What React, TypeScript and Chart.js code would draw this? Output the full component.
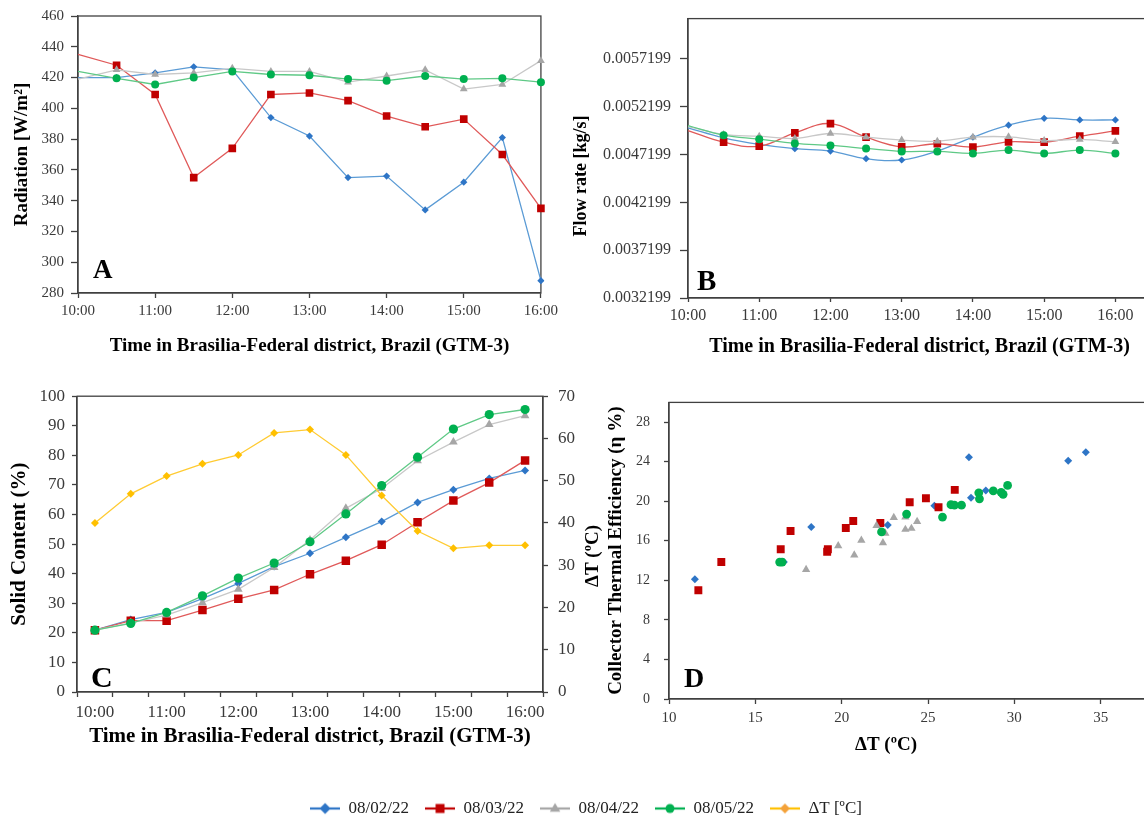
import React, { useEffect, useRef } from 'react';
import { Chart, registerables } from 'chart.js';

Chart.register(...registerables);

const FONT = "'Liberation Serif', 'Times New Roman', Times, serif";
const AXIS = '#404040';
const TICK = '#3a3a3a';

// ---------- data ----------
const timeLabels = ['10:00', '10:30', '11:00', '11:30', '12:00', '12:30', '13:00', '13:30', '14:00', '14:30', '15:00', '15:30', '16:00'];
const seriesNames = ['08/02/22', '08/03/22', '08/04/22', '08/05/22'];
const deltaName = 'ΔT [ºC]';

// A – radiation [W/m²]
const radBlue = [420, 420, 423, 427, 425, 394, 382, 355, 356, 334, 352, 381, 288];
const radRed = [435, 428, 409, 355, 374, 409, 410, 405, 395, 388, 393, 370, 335];
const radGray = [419, 425, 422, 423, 426, 424, 424, 417, 421, 425, 412.5, 415.5, 431];
const radGreen = [424, 419.5, 415.5, 420, 424, 422, 421.5, 419, 418, 421, 419, 419.5, 417];

// B – flow rate [kg/s]
const flowBlue = [0.004998, 0.004894, 0.004825, 0.00478, 0.004755, 0.004676, 0.004662, 0.004755, 0.004901, 0.005026, 0.005098, 0.005081, 0.005081];
const flowRed = [0.00497, 0.004849, 0.004807, 0.004946, 0.005043, 0.004901, 0.0048, 0.004832, 0.004797, 0.004852, 0.004849, 0.004911, 0.004967];
const flowGray = [0.005012, 0.004929, 0.004911, 0.004887, 0.004939, 0.004901, 0.00487, 0.004859, 0.004901, 0.004904, 0.004866, 0.004877, 0.004852];
const flowGreen = [0.005022, 0.004922, 0.00488, 0.004835, 0.004814, 0.004783, 0.004752, 0.004752, 0.004731, 0.004766, 0.004731, 0.004766, 0.004731];
const flowTicks = [0.0032199, 0.0037199, 0.0042199, 0.0047199, 0.0052199, 0.0057199];

// C – solid content (%) and ΔT
const solidBlue = [20.9, 24.5, 26.9, 31.6, 36.7, 42.4, 46.9, 52.3, 57.6, 64.1, 68.4, 72.2, 74.9];
const solidRed = [20.9, 24.1, 24.1, 27.7, 31.5, 34.5, 39.8, 44.4, 49.8, 57.4, 64.7, 70.8, 78.3];
const solidGray = [20.9, 23.4, 26, 30.2, 34.7, 42.1, 51.4, 62.1, 68.8, 78.2, 84.5, 90.4, 93.4];
const solidGreen = [20.9, 23.2, 26.9, 32.5, 38.5, 43.6, 50.8, 60.2, 69.8, 79.4, 88.9, 93.8, 95.5];
const deltaT = [40, 46.9, 51.1, 54, 56.1, 61.3, 62.1, 56.1, 46.5, 38.1, 34, 34.7, 34.7];

// D – efficiency vs ΔT  [ΔT, η]
const effBlue = [[11.5, 12.1], [16.65, 13.85], [18.24, 17.4], [22.67, 17.6], [25.37, 19.55], [27.37, 24.45], [27.49, 20.35], [28.35, 21.1], [33.12, 24.1], [34.14, 24.95]];
const effRed = [[11.7, 11.0], [13.03, 13.85], [16.47, 15.15], [17.04, 17.0], [19.16, 14.9], [19.2, 15.15], [20.24, 17.3], [20.67, 18.0], [22.24, 17.8], [23.94, 19.9], [24.88, 20.3], [25.61, 19.4], [26.55, 21.15]];
const effGray = [[17.94, 13.1], [19.8, 15.5], [20.73, 14.55], [21.14, 16.05], [22.02, 17.55], [22.39, 15.8], [22.53, 16.75], [23.02, 18.35], [23.69, 18.4], [23.69, 17.15], [24.04, 17.25], [24.37, 17.95]];
const effGreen = [[16.41, 13.85], [16.55, 13.85], [22.31, 16.9], [23.76, 18.7], [25.84, 18.4], [26.33, 19.65], [26.53, 19.6], [26.94, 19.6], [27.94, 20.85], [27.98, 20.25], [28.78, 21.05], [29.24, 20.9], [29.35, 20.7], [29.61, 21.6]];
const effTicks = [0, 4, 8, 12, 16, 20, 24, 28];

// ---------- styles ----------
const C_BLUE = { line: '#5B9BD5', mark: '#2E75C6', style: 'rectRot' };
const C_RED = { line: '#E05A5A', mark: '#C00000', style: 'rect' };
const C_GRAY = { line: '#C8C8C8', mark: '#A6A6A6', style: 'triangle' };
const C_GREEN = { line: '#5FC986', mark: '#00B050', style: 'circle' };
const C_YEL = { line: '#FFCB33', mark: '#FFC000', style: 'rectRot' };

function makeDecor(id: string, cfg: any) {
  return {
    id,
    beforeDatasetsDraw(chart: any) {
      if (!cfg.frame) return;
      const { ctx, chartArea: a } = chart;
      ctx.save();
      ctx.strokeStyle = AXIS;
      ctx.lineWidth = 1.3;
      ctx.strokeRect(a.left, a.top, a.right - a.left, a.bottom - a.top);
      ctx.restore();
    },
    afterDraw(chart: any) {
      const { ctx, chartArea: a } = chart;
      (cfg.texts || []).forEach((t: any) => {
        ctx.save();
        ctx.font = t.font;
        ctx.fillStyle = t.color || '#000';
        ctx.textAlign = t.align || 'left';
        ctx.textBaseline = t.baseline || 'alphabetic';
        const x = t.fromArea ? a.left + t.x : t.x;
        const y = t.fromArea ? a.bottom + t.y : t.y;
        ctx.translate(x, y);
        if (t.rotate) ctx.rotate(t.rotate);
        ctx.fillText(t.text, 0, 0);
        ctx.restore();
      });
    },
  };
}

function lineDs(label: string, data: any[], c: any, radius: number, extra: any = {}) {
  return {
    label,
    data,
    borderColor: c.line,
    borderWidth: 1.3,
    backgroundColor: c.mark,
    pointBackgroundColor: c.mark,
    pointBorderColor: c.mark,
    pointBorderWidth: 0,
    pointStyle: c.style,
    pointRadius: radius,
    pointHoverRadius: radius,
    tension: 0,
    fill: false,
    ...extra,
  };
}

const hideFirst = (r: number) => (ctx: any) => (ctx.dataIndex === 0 ? 0 : r);

const border = { display: true, color: AXIS, width: 1.3 };
const titleFont = (size: number) => ({ size, weight: 'bold' as const });

function cfgA(): any {
  return {
    type: 'line',
    data: {
      labels: timeLabels,
      datasets: [
        lineDs(seriesNames[0], radBlue, C_BLUE, 3.6, { pointRadius: hideFirst(3.6), order: 4 }),
        lineDs(seriesNames[1], radRed, C_RED, 5.4, { pointRadius: hideFirst(5.4), order: 3 }),
        lineDs(seriesNames[2], radGray, C_GRAY, 4.5, { pointRadius: hideFirst(4.5), order: 2 }),
        lineDs(seriesNames[3], radGreen, C_GREEN, 4, { pointRadius: hideFirst(4), order: 1 }),
      ],
    },
    options: {
      responsive: false,
      animation: false,
      layout: { padding: { top: 0, right: 18, left: 0, bottom: 0 } },
      plugins: { legend: { display: false }, tooltip: { enabled: false } },
      scales: {
        x: {
          type: 'category',
          offset: false,
          grid: { drawOnChartArea: false, drawTicks: true, tickLength: 5, tickWidth: 1.3, tickColor: (c: any) => (c.index % 2 ? 'rgba(0,0,0,0)' : AXIS) },
          border,
          ticks: { autoSkip: false, maxRotation: 0, padding: 4, color: TICK, font: { size: 15 }, callback: (_v: any, i: number) => (i % 2 ? '' : timeLabels[i]) },
          title: { display: true, text: 'Time in Brasilia-Federal district, Brazil (GTM-3)', color: '#000', font: titleFont(19), padding: { top: 0, bottom: 23 } },
          afterFit: (s: any) => { s.height = 87; },
        },
        y: {
          min: 280,
          max: 460,
          grid: { drawOnChartArea: false, tickLength: 7, tickWidth: 1.3, tickColor: AXIS },
          border,
          ticks: { stepSize: 20, padding: 7, color: TICK, font: { size: 15 } },
          title: { display: true, text: 'Radiation [W/m²]', color: '#000', font: titleFont(19), padding: { top: 11, bottom: 0 } },
          afterFit: (s: any) => { s.width = 78; },
        },
      },
    },
    plugins: [makeDecor('decorA', { frame: true, texts: [{ text: 'A', x: 15, y: -15, fromArea: true, font: `bold 27px ${FONT}` }] })],
  };
}

function cfgB(): any {
  const labels = [...timeLabels, '16:30'];
  return {
    type: 'line',
    data: {
      labels,
      datasets: [
        lineDs(seriesNames[0], flowBlue, C_BLUE, 3.6, { pointRadius: hideFirst(3.6), tension: 0.4, order: 4 }),
        lineDs(seriesNames[1], flowRed, C_RED, 5.4, { pointRadius: hideFirst(5.4), tension: 0.4, order: 3 }),
        lineDs(seriesNames[2], flowGray, C_GRAY, 4.5, { pointRadius: hideFirst(4.5), tension: 0.4, order: 2 }),
        lineDs(seriesNames[3], flowGreen, C_GREEN, 4, { pointRadius: hideFirst(4), tension: 0.4, order: 1 }),
      ],
    },
    options: {
      responsive: false,
      animation: false,
      layout: { padding: { top: 0, right: 29, left: 0, bottom: 0 } },
      plugins: { legend: { display: false }, tooltip: { enabled: false } },
      scales: {
        x: {
          type: 'category',
          offset: false,
          grid: { drawOnChartArea: false, drawTicks: true, tickLength: 4, tickWidth: 1.3, tickColor: (c: any) => (c.index % 2 ? 'rgba(0,0,0,0)' : AXIS) },
          border,
          ticks: { autoSkip: false, maxRotation: 0, padding: 4, color: TICK, font: { size: 16 }, callback: (_v: any, i: number) => (i % 2 ? '' : labels[i]) },
          title: { display: true, text: 'Time in Brasilia-Federal district, Brazil (GTM-3)', color: '#000', font: titleFont(20), padding: { top: 0, bottom: 21 } },
          afterFit: (s: any) => { s.height = 82; },
        },
        y: {
          min: 0.0032199,
          max: 0.00614,
          grid: { drawOnChartArea: false, tickLength: 8, tickWidth: 1.3, tickColor: AXIS },
          border,
          afterBuildTicks: (s: any) => { s.ticks = flowTicks.map((v) => ({ value: v })); },
          ticks: { padding: 9, color: TICK, font: { size: 16 }, callback: (v: any) => Number(v).toFixed(7) },
          afterFit: (s: any) => { s.width = 128; },
        },
      },
    },
    plugins: [makeDecor('decorB', {
      frame: true,
      texts: [
        { text: 'B', x: 9, y: -8, fromArea: true, font: `bold 29px ${FONT}` },
        { text: 'Flow rate [kg/s]', x: 21, y: 176, rotate: -Math.PI / 2, align: 'center', baseline: 'middle', font: `bold 18px ${FONT}` },
      ],
    })],
  };
}

function cfgC(): any {
  return {
    type: 'line',
    data: {
      labels: timeLabels,
      datasets: [
        lineDs(seriesNames[0], solidBlue, C_BLUE, 4, { order: 5 }),
        lineDs(seriesNames[1], solidRed, C_RED, 6, { order: 4 }),
        lineDs(seriesNames[2], solidGray, C_GRAY, 5, { order: 3 }),
        lineDs(seriesNames[3], solidGreen, C_GREEN, 4.6, { order: 2 }),
        lineDs(deltaName, deltaT, C_YEL, 4, { yAxisID: 'y1', order: 1 }),
      ],
    },
    options: {
      responsive: false,
      animation: false,
      layout: { padding: { top: 0, right: 7, left: 0, bottom: 0 } },
      plugins: { legend: { display: false }, tooltip: { enabled: false } },
      scales: {
        x: {
          type: 'category',
          offset: true,
          grid: { offset: true, drawOnChartArea: false, drawTicks: true, tickLength: 5, tickWidth: 1.3, tickColor: AXIS },
          border,
          ticks: { autoSkip: false, maxRotation: 0, padding: 5, color: TICK, font: { size: 17 }, callback: (_v: any, i: number) => (i % 2 ? '' : timeLabels[i]) },
          title: { display: true, text: 'Time in Brasilia-Federal district, Brazil (GTM-3)', color: '#000', font: titleFont(21), padding: { top: 0, bottom: 11 } },
          afterFit: (s: any) => { s.height = 68; },
        },
        y: {
          min: 0,
          max: 100,
          grid: { drawOnChartArea: false, tickLength: 5, tickWidth: 1.3, tickColor: AXIS },
          border,
          ticks: { stepSize: 10, padding: 7, color: TICK, font: { size: 17 } },
          title: { display: true, text: 'Solid Content (%)', color: '#000', font: titleFont(21), padding: { top: 7, bottom: 0 } },
          afterFit: (s: any) => { s.width = 77; },
        },
        y1: {
          position: 'right',
          min: 0,
          max: 70,
          grid: { drawOnChartArea: false, tickLength: 5, tickWidth: 1.3, tickColor: AXIS },
          border,
          ticks: { stepSize: 10, padding: 10, color: TICK, font: { size: 17 } },
          afterFit: (s: any) => { s.width = 70; },
        },
      },
    },
    plugins: [makeDecor('decorC', {
      frame: true,
      texts: [
        { text: 'C', x: 14, y: -5, fromArea: true, font: `bold 30px ${FONT}` },
        { text: 'ΔT (ºC)', x: 593, y: 180, rotate: -Math.PI / 2, align: 'center', baseline: 'middle', font: `bold 19px ${FONT}` },
      ],
    })],
  };
}

function scatterDs(label: string, pts: number[][], c: any, radius: number, order: number) {
  return {
    label,
    data: pts.map(([x, y]) => ({ x, y })),
    showLine: false,
    backgroundColor: c.mark,
    borderColor: c.mark,
    pointBackgroundColor: c.mark,
    pointBorderWidth: 0,
    pointStyle: c.style,
    pointRadius: radius,
    pointHoverRadius: radius,
    order,
  };
}

function cfgD(): any {
  return {
    type: 'scatter',
    data: {
      datasets: [
        scatterDs(seriesNames[0], effBlue, C_BLUE, 4, 4),
        scatterDs(seriesNames[1], effRed, C_RED, 5.6, 3),
        scatterDs(seriesNames[2], effGray, C_GRAY, 4.8, 2),
        scatterDs(seriesNames[3], effGreen, C_GREEN, 4.4, 1),
      ],
    },
    options: {
      responsive: false,
      animation: false,
      layout: { padding: { top: 0, right: 23, left: 0, bottom: 0 } },
      plugins: { legend: { display: false }, tooltip: { enabled: false } },
      scales: {
        x: {
          type: 'linear',
          min: 10,
          max: 40,
          grid: { drawOnChartArea: false, tickLength: 5, tickWidth: 1.3, tickColor: AXIS },
          border,
          ticks: { stepSize: 5, padding: 5, color: TICK, font: { size: 15 } },
          afterFit: (s: any) => { s.height = 71; },
        },
        y: {
          min: 0,
          max: 30,
          grid: { drawOnChartArea: false, tickLength: 5, tickWidth: 1.3, tickColor: AXIS },
          border,
          afterBuildTicks: (s: any) => { s.ticks = effTicks.map((v) => ({ value: v })); },
          ticks: { padding: 14, color: TICK, font: { size: 14 } },
          title: { display: true, text: 'Collector Thermal Efficiency (η %)', color: '#000', font: titleFont(19), padding: { top: 15, bottom: 0 } },
          afterFit: (s: any) => { s.width = 79; },
        },
      },
    },
    plugins: [makeDecor('decorD', {
      frame: true,
      texts: [
        { text: 'D', x: 15, y: -12, fromArea: true, font: `bold 28px ${FONT}` },
        { text: 'ΔT (ºC)', x: 296, y: 365, align: 'center', baseline: 'middle', font: `bold 19px ${FONT}` },
      ],
    })],
  };
}

function makeIcon(c: any, kind: string, size: number) {
  const cv = document.createElement('canvas');
  cv.width = 30;
  cv.height = 16;
  const g = cv.getContext('2d')!;
  g.strokeStyle = c.line;
  g.lineWidth = 2.2;
  g.beginPath();
  g.moveTo(0, 8);
  g.lineTo(30, 8);
  g.stroke();
  g.fillStyle = c.mark;
  g.beginPath();
  if (kind === 'diamond') {
    g.moveTo(15 - size, 8); g.lineTo(15, 8 - size); g.lineTo(15 + size, 8); g.lineTo(15, 8 + size);
  } else if (kind === 'square') {
    g.rect(15 - size, 8 - size, 2 * size, 2 * size);
  } else if (kind === 'triangle') {
    g.moveTo(15, 8 - size); g.lineTo(15 + size * 0.95, 8 + size * 0.6); g.lineTo(15 - size * 0.95, 8 + size * 0.6);
  } else {
    g.arc(15, 8, size, 0, Math.PI * 2);
  }
  g.closePath();
  g.fill();
  return cv;
}

function cfgLegend(): any {
  const names = [...seriesNames, deltaName];
  const icons = [
    makeIcon({ line: '#2E75C6', mark: '#2E75C6' }, 'diamond', 5.5),
    makeIcon({ line: '#C00000', mark: '#C00000' }, 'square', 4.5),
    makeIcon({ line: '#A6A6A6', mark: '#A6A6A6' }, 'triangle', 5.5),
    makeIcon({ line: '#00B050', mark: '#00B050' }, 'circle', 4.5),
    makeIcon({ line: '#FFC000', mark: '#F4A23A' }, 'diamond', 5),
  ];
  return {
    type: 'line',
    data: { labels: [], datasets: names.map((n) => ({ label: n, data: [] })) },
    options: {
      responsive: false,
      animation: false,
      layout: { padding: 0 },
      scales: { x: { display: false }, y: { display: false } },
      plugins: {
        tooltip: { enabled: false },
        legend: {
          display: true,
          position: 'top',
          align: 'center',
          labels: {
            usePointStyle: true,
            pointStyleWidth: 30,
            padding: 16,
            color: '#222',
            font: { size: 17 },
            generateLabels: () => names.map((t, i) => ({
              text: t,
              pointStyle: icons[i],
              fillStyle: 'rgba(0,0,0,0)',
              strokeStyle: 'rgba(0,0,0,0)',
              lineWidth: 0,
              hidden: false,
              datasetIndex: i,
              fontColor: '#222',
            })),
          },
        },
      },
    },
  };
}

export default function App() {
  const aRef = useRef<HTMLCanvasElement>(null);
  const bRef = useRef<HTMLCanvasElement>(null);
  const cRef = useRef<HTMLCanvasElement>(null);
  const dRef = useRef<HTMLCanvasElement>(null);
  const lRef = useRef<HTMLCanvasElement>(null);

  useEffect(() => {
    Chart.defaults.font.family = FONT;
    Chart.defaults.color = TICK;
    const charts = [
      new Chart(aRef.current!, cfgA()),
      new Chart(bRef.current!, cfgB()),
      new Chart(cRef.current!, cfgC()),
      new Chart(dRef.current!, cfgD()),
      new Chart(lRef.current!, cfgLegend()),
    ];
    return () => charts.forEach((c) => c.destroy());
  }, []);

  const abs = (left: number, top: number): React.CSSProperties => ({ position: 'absolute', left, top });

  return (
    <div style={{ position: 'absolute', left: 0, top: 0, width: 1144, height: 823, overflow: 'hidden', background: '#fff' }}>
      <canvas ref={aRef} width={562} height={380} style={abs(0, 0)} />
      <canvas ref={bRef} width={620} height={380} style={abs(560, 0)} />
      <canvas ref={cRef} width={620} height={384} style={abs(0, 376)} />
      <canvas ref={dRef} width={620} height={390} style={abs(590, 380)} />
      <canvas ref={lRef} width={1144} height={140} style={abs(14, 784)} />
    </div>
  );
}
